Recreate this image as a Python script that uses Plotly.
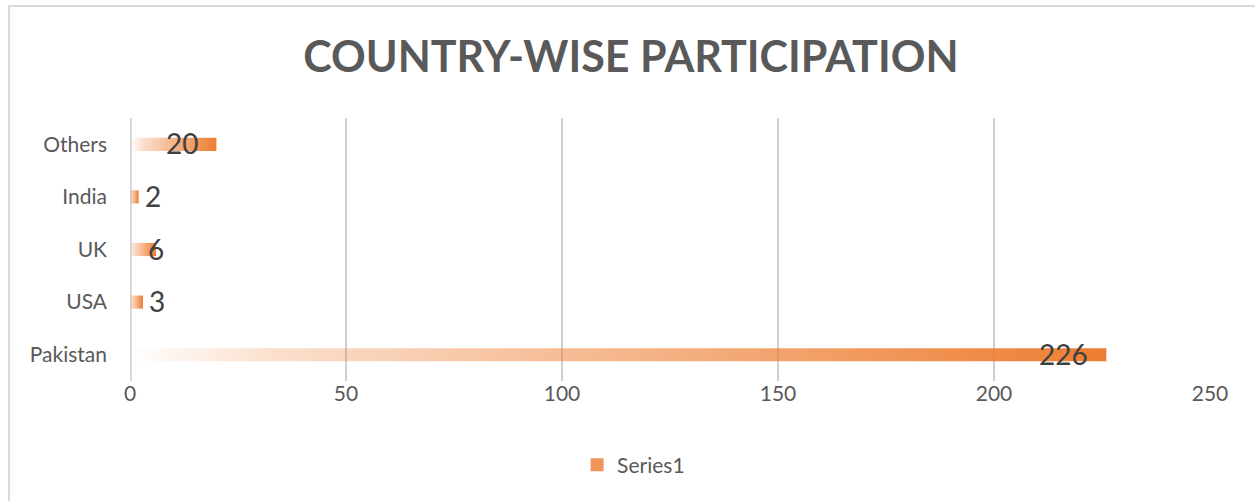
import plotly.graph_objects as go

categories = ["Pakistan", "USA", "UK", "India", "Others"]
values = [226, 3, 6, 2, 20]
x_ticks = [0, 50, 100, 150, 200, 250]
series_name = "Series1"

ORANGE = "rgb(237,125,49)"
FADE = "rgba(237,125,49,0)"
GRID = "#d9d9d9"
TXT = "#595959"
FONT = "Lato"
HALF = 0.125  # half bar thickness in category units

fig = go.Figure()
for i, (c, v) in enumerate(zip(categories, values)):
    fig.add_trace(go.Scatter(
        x=[0, v, v, 0, 0],
        y=[i - HALF, i - HALF, i + HALF, i + HALF, i - HALF],
        mode="lines", line=dict(width=0), fill="toself",
        fillgradient=dict(type="horizontal", colorscale=[[0, FADE], [0.15, "rgba(237,125,49,0.25)"], [1, ORANGE]]),
        hoverinfo="skip", showlegend=False, name=c,
    ))

# legend entry
fig.add_trace(go.Scatter(
    x=[None], y=[None], mode="markers", name=series_name,
    marker=dict(symbol="square", size=13, color="rgb(240,150,90)"),
    showlegend=True,
))

for i, v in enumerate(values):
    if v >= 10:
        ax, xs = "right", -16
    elif v >= 5:
        ax, xs = "center", 0
    else:
        ax, xs = "left", 4
    fig.add_annotation(x=v, y=i, text=str(v), showarrow=False, xanchor=ax, xshift=xs,
                       yanchor="middle", yshift=1,
                       font=dict(family=FONT, size=28, color="#404040"))

# outer chart border
fig.add_shape(type="rect", xref="paper", yref="paper",
              x0=-0.112, x1=1.3, y0=-1.5, y1=1.426,
              line=dict(color=GRID, width=2), fillcolor="rgba(0,0,0,0)", layer="below")

fig.update_layout(
    width=1255, height=501,
    margin=dict(l=130, r=45, t=118, b=120),
    paper_bgcolor="white", plot_bgcolor="white",
    title=dict(text="<b>COUNTRY-WISE PARTICIPATION</b>", x=0.5027, xanchor="center",
               y=0.886, yanchor="middle",
               font=dict(family=FONT, size=43, color=TXT)),
    xaxis=dict(range=[0, 250], tickvals=x_ticks, showgrid=True, gridcolor="#cfcfcf", gridwidth=1.5,
               zeroline=False, showline=False, ticks="", ticklabelstandoff=-2,
               tickfont=dict(family=FONT, size=21, color=TXT), fixedrange=True),
    yaxis=dict(range=[-0.5, 4.5], tickvals=list(range(len(categories))), ticktext=categories,
               showgrid=False, zeroline=False, showline=False, ticks="",
               ticklabelstandoff=22,
               tickfont=dict(family=FONT, size=21, color=TXT), fixedrange=True),
    legend=dict(orientation="h", x=0.414, xanchor="left", y=-0.32, yanchor="middle",
                font=dict(family=FONT, size=21, color=TXT), itemclick=False),
    showlegend=True,
)
# zero axis line (thicker)
fig.add_shape(type="line", xref="x", yref="paper", x0=0, x1=0, y0=0, y1=1,
              line=dict(color=GRID, width=4), layer="below")

fig.write_html("out.html")
